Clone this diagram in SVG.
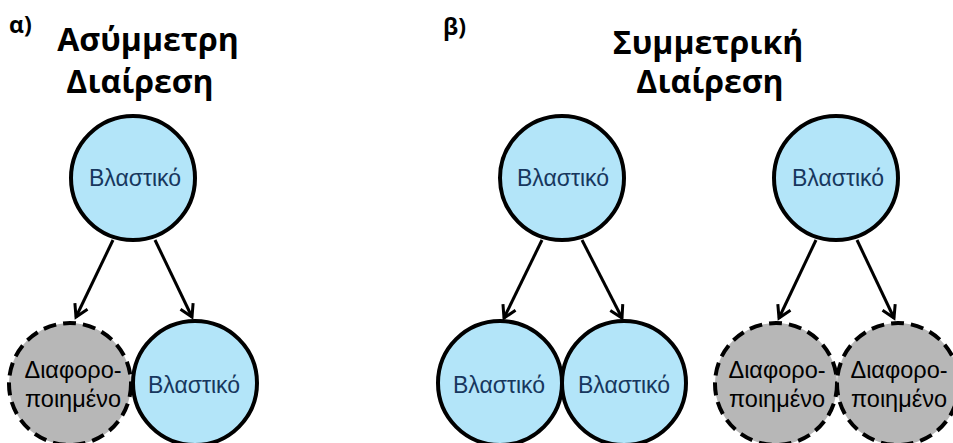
<svg xmlns="http://www.w3.org/2000/svg" width="953" height="443" viewBox="0 0 953 443">
<style>
.title{font-family:"Open Sans","Liberation Sans",sans-serif;font-weight:bold;font-size:32px;fill:#000;text-anchor:middle}
.lbl{font-family:"Open Sans","Liberation Sans",sans-serif;font-weight:bold;font-size:23px;fill:#000}
.stem{fill:#b3e5f9;stroke:#000;stroke-width:4}
.diff{fill:#b7b7b7;stroke:#000;stroke-width:4;stroke-dasharray:13 7}
.t1{font-family:"Liberation Sans",Arial,sans-serif;font-size:23px;fill:#17375e;text-anchor:middle}
.t2{font-family:"Liberation Sans",Arial,sans-serif;font-size:23.5px;fill:#000;text-anchor:middle}
.arr{stroke:#000;stroke-width:3;fill:none;marker-end:url(#ah)}
</style>
<defs>
<marker id="ah" markerUnits="userSpaceOnUse" markerWidth="20" markerHeight="20" refX="0" refY="0" viewBox="-14 -10 16 20" orient="auto">
<path d="M-12,-7 L0,0 L-12,7" fill="none" stroke="#000" stroke-width="3"/>
</marker>
</defs>
<text class="lbl" x="9" y="33">α)</text>
<text class="title" x="148" y="51">Ασύμμετρη</text>
<text class="title" x="140" y="93">Διαίρεση</text>
<text class="lbl" x="443" y="35">β)</text>
<text class="title" x="708" y="54">Συμμετρική</text>
<text class="title" x="710" y="93">Διαίρεση</text>
<g id="connectors">
<line class="arr" x1="113" y1="240" x2="76" y2="317"/>
<line class="arr" x1="155" y1="240" x2="192" y2="317"/>
<line class="arr" x1="542" y1="240" x2="504" y2="318"/>
<line class="arr" x1="582" y1="240" x2="622" y2="318"/>
<line class="arr" x1="816" y1="240" x2="779" y2="318"/>
<line class="arr" x1="857" y1="240" x2="894" y2="318"/>
</g>
<g id="a-stem"><circle class="stem" cx="133" cy="178" r="62"/><text class="t1" x="135" y="186">Βλαστικό</text></g>
<g id="a-diff"><circle class="diff" cx="70" cy="384" r="61"/><text class="t2" x="73" y="378">Διαφορο-</text><text class="t2" x="73" y="407">ποιημένο</text></g>
<g id="a-stem2"><circle class="stem" cx="195" cy="383" r="62"/><text class="t1" x="194" y="393">Βλαστικό</text></g>
<g id="b-stem"><circle class="stem" cx="562" cy="178" r="62"/><text class="t1" x="563" y="186">Βλαστικό</text></g>
<g id="b-stem-l"><circle class="stem" cx="500" cy="383" r="62"/><text class="t1" x="499" y="393">Βλαστικό</text></g>
<g id="b-stem-r"><circle class="stem" cx="624" cy="383" r="62"/><text class="t1" x="624" y="393">Βλαστικό</text></g>
<g id="c-stem"><circle class="stem" cx="836" cy="178" r="62"/><text class="t1" x="838" y="186">Βλαστικό</text></g>
<g id="c-diff-l"><circle class="diff" cx="776" cy="384" r="61"/><text class="t2" x="777" y="378">Διαφορο-</text><text class="t2" x="777" y="407">ποιημένο</text></g>
<g id="c-diff-r"><circle class="diff" cx="898" cy="384" r="61"/><text class="t2" x="899" y="378">Διαφορο-</text><text class="t2" x="899" y="407">ποιημένο</text></g>
</svg>
